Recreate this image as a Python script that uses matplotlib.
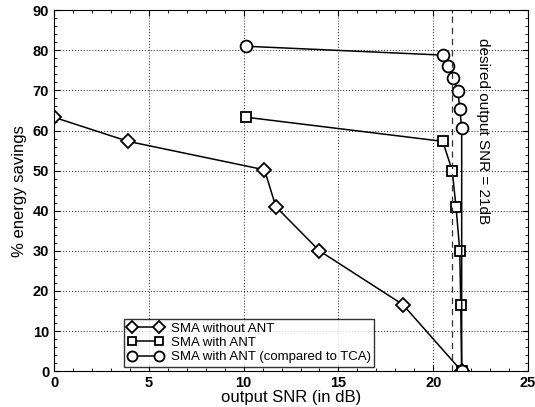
import matplotlib
matplotlib.use("Agg")
import matplotlib.pyplot as plt
from matplotlib.ticker import AutoMinorLocator

plt.rcParams["font.family"] = ["Liberation Sans", "DejaVu Sans"]

# SMA without ANT
snr_no_ant = [0, 3.9, 11.1, 11.7, 14.0, 18.4, 21.5]
sav_no_ant = [63.3, 57.3, 50.2, 41.0, 30.0, 16.6, 0]

# SMA with ANT
snr_ant = [10.15, 20.5, 21.0, 21.2, 21.4, 21.45, 21.5]
sav_ant = [63.3, 57.3, 50.0, 41.0, 30.0, 16.6, 0]

# SMA with ANT (compared to TCA)
snr_tca = [10.15, 20.5, 20.8, 21.05, 21.3, 21.4, 21.5, 21.5]
sav_tca = [81.0, 78.8, 76.2, 73.2, 69.8, 65.4, 60.6, 0]

desired_snr = 21

fig = plt.figure(figsize=(5.35, 4.07), dpi=100)
ax = fig.add_axes([0.101, 0.088, 0.886, 0.887])

mk = dict(color="black", lw=1.1, markerfacecolor="white", markeredgewidth=1.3)
ax.plot(snr_no_ant, sav_no_ant, marker="D", markersize=7, label="SMA without ANT", **mk)
ax.plot(snr_ant, sav_ant, marker="s", markersize=7.5, label="SMA with ANT", **mk)
ax.plot(snr_tca, sav_tca, marker="o", markersize=8.5, label="SMA with ANT (compared to TCA)", **mk)

ax.axvline(desired_snr, color="#333333", ls=(0, (5, 4)), lw=0.9)
ax.text(22.6, 83, "desired output SNR = 21dB", rotation=-90, va="top", ha="center",
        fontsize=11)

ax.set_xlim(0, 25)
ax.set_ylim(0, 90)
ax.set_xticks(range(0, 26, 5))
ax.set_yticks(range(0, 91, 10))
ax.xaxis.set_minor_locator(AutoMinorLocator(5))
ax.yaxis.set_minor_locator(AutoMinorLocator(5))
ax.tick_params(which="both", direction="in", top=True, right=True)
ax.tick_params(which="major", length=4, labelsize=10.5)
ax.tick_params(which="minor", length=2)
for lbl in ax.get_xticklabels() + ax.get_yticklabels():
    lbl.set_fontweight("bold")
ax.grid(True, ls=(0, (1, 2)), color="#222222", lw=0.7)

ax.set_xlabel("output SNR (in dB)", fontsize=12, labelpad=0)
ax.set_ylabel("% energy savings", fontsize=12, labelpad=4)

leg = ax.legend(loc="lower left", bbox_to_anchor=(0.14, 0.0), numpoints=2,
                fontsize=9.5, frameon=True, fancybox=False, borderpad=0.3,
                handlelength=2.6, handletextpad=0.6, labelspacing=0.15,
                borderaxespad=0.3, markerscale=0.85)
leg.get_frame().set_edgecolor("black")
leg.get_frame().set_linewidth(1.0)

fig.savefig("out.png", dpi=100)
